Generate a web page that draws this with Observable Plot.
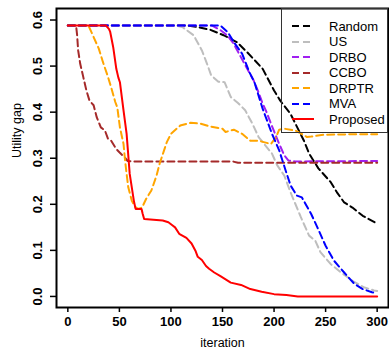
<!DOCTYPE html>
<html>
<head>
<meta charset="utf-8">
<script src="https://cdn.jsdelivr.net/npm/d3@7"></script>
<script src="https://cdn.jsdelivr.net/npm/@observablehq/plot@0.6"></script>
<style>
  body { margin: 0; background: #fff; }
  #wrap { position: relative; width: 389px; height: 352px; font-family: "Liberation Sans", Arial, sans-serif; }
  #legend { position: absolute; left: 281px; top: 8px; width: 105px; height: 123px; border: 1.5px solid #333; background: transparent; }
  .row { position: absolute; left: 0; height: 16px; display: flex; align-items: center; font-size: 13px; color: #000; }
  .row svg { margin-left: 10px; margin-right: 15px; }
</style>
</head>
<body>
<div id="wrap"></div>
<script>
// ---- data (iteration, utility gap) ----
const random = [[0,0.588],[115,0.588],[125,0.585],[138,0.579],[151,0.567],[164,0.552],[174,0.530],[189,0.494],[200,0.447],[206,0.425],[216,0.396],[229,0.338],[234,0.31],[243,0.278],[255,0.248],[261,0.226],[268,0.204],[276,0.193],[286,0.175],[296,0.163],[300,0.158]];
const us = [[0,0.588],[105,0.588],[111,0.585],[122,0.567],[130,0.534],[135,0.505],[139,0.48],[146,0.466],[152,0.465],[158,0.433],[165,0.42],[172,0.404],[179,0.375],[185,0.346],[198,0.31],[203,0.285],[210,0.262],[216,0.226],[226,0.172],[234,0.132],[240,0.121],[245,0.096],[255,0.07],[265,0.052],[276,0.034],[287,0.02],[297,0.013],[300,0.012]];
const drbo = [[0,0.588],[140,0.588],[148,0.578],[155,0.566],[161,0.548],[166,0.527],[174,0.494],[180,0.47],[185,0.443],[189,0.418],[192,0.404],[197,0.375],[205,0.331],[210,0.306],[214,0.295],[220,0.293],[300,0.294]];
const ccbo = [[0,0.588],[8,0.588],[9,0.567],[10,0.534],[12,0.505],[15,0.476],[18,0.447],[21,0.425],[25,0.415],[28,0.389],[32,0.367],[36,0.36],[39,0.342],[42,0.338],[47,0.32],[50,0.313],[55,0.302],[58,0.294],[64,0.293],[160,0.293],[165,0.290],[300,0.290]];
const drptr = [[0,0.588],[20,0.588],[25,0.563],[30,0.538],[34,0.509],[39,0.476],[42,0.454],[46,0.422],[48,0.41],[50.5,0.367],[54,0.331],[55.5,0.295],[57,0.266],[58.6,0.237],[62,0.208],[65,0.195],[68,0.19],[72,0.193],[76,0.212],[81,0.23],[86,0.262],[89,0.288],[93,0.315],[96,0.335],[100,0.353],[109,0.371],[119,0.377],[129,0.375],[138,0.369],[150,0.364],[153,0.357],[161,0.362],[169,0.353],[177,0.338],[185,0.338],[190,0.335],[197,0.331],[202,0.346],[205,0.362],[210,0.364],[221,0.36],[232,0.346],[236,0.347],[248,0.351],[275,0.352],[300,0.352]];
const mva = [[0,0.588],[148,0.588],[155,0.574],[161,0.552],[169,0.527],[176,0.487],[181,0.465],[184,0.443],[189,0.407],[192,0.389],[198,0.353],[205,0.317],[211,0.275],[216,0.241],[222,0.219],[227,0.215],[236,0.179],[242,0.15],[250,0.11],[258,0.078],[268,0.052],[278,0.027],[286,0.016],[295,0.009],[300,0.008]];
const proposed = [[0,0.588],[37,0.588],[40,0.58],[41,0.575],[44,0.541],[47,0.494],[49,0.475],[50.5,0.465],[54,0.404],[57,0.353],[60,0.266],[64,0.208],[65.7,0.19],[71.5,0.19],[72.5,0.18],[74,0.168],[86,0.166],[92,0.165],[97.5,0.161],[101,0.155],[104,0.15],[108,0.136],[115,0.127],[120,0.115],[124,0.098],[126,0.086],[130,0.079],[134,0.066],[137,0.06],[142,0.052],[148,0.044],[153,0.037],[158,0.03],[168,0.025],[177,0.016],[188,0.01],[200,0.005],[212,0.003],[223,0.0],[300,0.0]];

const seriesNames = ["Random","US","DRBO","CCBO","DRPTR","MVA","Proposed"];
const seriesData = [random, us, drbo, ccbo, drptr, mva, proposed];
const seriesColors = ["#000000","#BEBEBE","#A020F0","#A52A2A","#FFA500","#0000FF","#FF0000"];
const seriesDash = ["7,4","7,4","7,4","7,4","7,4","7,4",null];
const xTicks = [0,50,100,150,200,250,300];
const yTicks = [0,0.1,0.2,0.3,0.4,0.5,0.6];
const xTitle = "iteration";
const yTitle = "Utility gap";

const lineMarks = seriesData.map((d, i) => Plot.line(d, {
  x: p => p[0], y: p => p[1],
  stroke: seriesColors[i], strokeWidth: 2,
  strokeDasharray: seriesDash[i] || undefined
}));

const chart = Plot.plot({
  width: 389, height: 352,
  marginLeft: 56, marginRight: 1, marginTop: 8, marginBottom: 45,
  style: { fontFamily: "'Liberation Sans', Arial, sans-serif", background: "white" },
  x: { domain: [-11, 311] },
  y: { domain: [-0.024, 0.625] },
  marks: [
    ...lineMarks,
    Plot.frame({ stroke: "black", strokeWidth: 2 }),
    Plot.axisX({ ticks: xTicks, tickSize: 5, tickPadding: 4, fontSize: 13, fontWeight: "bold", label: null, stroke: "black", strokeWidth: 1.5 }),
    Plot.axisY({ ticks: yTicks, tickFormat: d3.format(".1f"), tickSize: 6, tickPadding: 9, tickRotate: -90, fontSize: 13, fontWeight: "bold", label: null, strokeWidth: 1.5 }),
    Plot.text([xTitle], { text: d => d, frameAnchor: "bottom", dy: 39, fontSize: 12.5 }),
    Plot.text([yTitle], { text: d => d, frameAnchor: "left", dx: -40, rotate: -90, fontSize: 12.5 })
  ]
});

const wrap = document.getElementById("wrap");
wrap.appendChild(chart);

const legend = d3.select(wrap).append("div").attr("id", "legend");
seriesNames.forEach((name, i) => {
  const row = legend.append("div").attr("class", "row").style("top", (9 + i * 15.55) + "px");
  const svg = row.append("svg").attr("width", 22).attr("height", 6);
  svg.append("line").attr("x1", 0).attr("x2", 22).attr("y1", 3).attr("y2", 3)
    .attr("stroke", seriesColors[i]).attr("stroke-width", 2)
    .attr("stroke-dasharray", seriesDash[i] ? "7,4" : null);
  row.append("span").text(name);
});
</script>
</body>
</html>
